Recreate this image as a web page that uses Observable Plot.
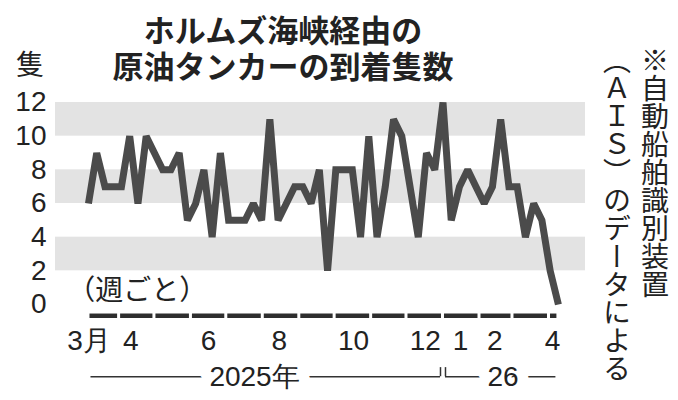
<!DOCTYPE html>
<html><head><meta charset="utf-8">
<script src="https://cdn.jsdelivr.net/npm/d3@7"></script>
<script src="https://cdn.jsdelivr.net/npm/@observablehq/plot@0.6"></script>
<style>
html,body{margin:0;padding:0;background:#fff;}
#wrap{position:relative;width:678px;height:400px;overflow:hidden;font-family:"Noto Sans CJK JP",sans-serif;color:#222;}
#title{height:88px;box-sizing:border-box;padding-top:11px;width:566px;text-align:center;font-weight:700;font-size:31px;}
#title div{height:36px;line-height:36px;}
#unit{position:absolute;left:16px;top:49px;font-size:28px;line-height:1;}
#note{position:absolute;right:4px;top:46px;writing-mode:vertical-rl;font-size:28px;line-height:38px;white-space:nowrap;}
</style>
</head><body>
<div id="wrap">
  <div id="title"><div>ホルムズ海峡経由の</div><div>原油タンカーの到着隻数</div></div>
  <div id="chart"></div>
  <div id="unit">隻</div>
  <div id="note">※自動船舶識別装置<br>（ＡＩＳ）のデータによる</div>
</div>
<script>
// ---- data ----
const weekStart = "2025-03-06";
const arrivals = [6,9,7,7,7,10,6,10,9,8,8,9,5,6,8,4,9,5,5,5,6,5,11,5,6,7,7,6,8,2,8,8,8,4,10,4,7,11,10,7,4,9,8,12,5,7,8,7,6,7,11,7,7,4,6,5,2,0];
const yTicks = [0,2,4,6,8,10,12];
const bandRanges = [[2,4],[6,8],[10,12]];
const firstMonthLabel = "3月";
const firstMonthLabelDate = "2025-03-25";
const monthLabels = ["4","6","8","10","12","1","2","4"];
const monthLabelDates = ["2025-04-11","2025-06-16","2025-08-15","2025-10-17","2025-12-17","2026-01-16","2026-02-14","2026-04-04"];
const yearLabels = ["2025年","26"];
const yearLabelDates = ["2025-07-25","2026-02-21"];
const yearBreak = "2026-01-01";
const periodNote = "（週ごと）";

// ---- build ----
const start = new Date(weekStart);
const series = arrivals.map((v, i) => ({date: d3.utcDay.offset(start, 7 * i), v}));
const end = series[series.length - 1].date;
const xDomain = [new Date("2025-02-06"), new Date("2026-05-02")];
const bounds = [start, ...d3.utcMonths(d3.utcDay.offset(start, 1), end), end];
const monthSegs = d3.pairs(bounds).map(([a, b]) => ({a, b}));
const labels = monthLabels.map((t, i) => ({t, d: new Date(monthLabelDates[i])}));
const years = yearLabels.map((t, i) => ({t, d: new Date(yearLabelDates[i])}));
const brk = new Date(yearBreak);
const yearLines = [{a: start, b: brk}, {a: brk, b: end}];

const Y_BAR = -0.67, Y_LAB = -2.15, Y_YEAR = -4.29, Y_TICKTOP = -3.75;

const chart = Plot.plot({
  width: 678, height: 312,
  marginTop: 14, marginBottom: 96, marginLeft: 55, marginRight: 93,
  style: {fontFamily: '"Liberation Sans", Arial, sans-serif', fontSize: "28px", color: "#222", background: "transparent", overflow: "visible"},
  x: {type: "utc", domain: xDomain, axis: null},
  y: {domain: [0, 12], ticks: yTicks, tickSize: 0, tickPadding: 9, label: null, tickFormat: d => String(d)},
  marks: [
    Plot.rect(bandRanges, {x1: () => xDomain[0], x2: () => xDomain[1], y1: d => d[0], y2: d => d[1], fill: "#e3e3e3"}),
    Plot.ruleY(monthSegs, {x1: "a", x2: "b", y: () => Y_BAR, stroke: "#2e2e2e", strokeWidth: 4.5, insetLeft: 1.5, insetRight: 1.5}),
    Plot.ruleY(yearLines, {x1: d => d.a, x2: d => d.b, y: () => Y_YEAR, stroke: "#333", strokeWidth: 1.5, insetLeft: 2.5, insetRight: 2.5}),
    Plot.ruleX([brk], {x: d => d, y1: () => Y_YEAR, y2: () => Y_TICKTOP, dx: -2.5, stroke: "#333", strokeWidth: 1.5}),
    Plot.ruleX([brk], {x: d => d, y1: () => Y_YEAR, y2: () => Y_TICKTOP, dx: 2.5, stroke: "#333", strokeWidth: 1.5}),
    Plot.text(years, {x: "d", y: () => Y_YEAR, text: "t", fontSize: 28, fill: "#222", stroke: "white", strokeWidth: 22, paintOrder: "stroke"}),
    Plot.text([firstMonthLabel], {x: () => new Date(firstMonthLabelDate), y: () => Y_LAB, text: d => d, fontSize: 28, fill: "#222", textAnchor: "end"}),
    Plot.text(labels, {x: "d", y: () => Y_LAB, text: "t", fontSize: 28, fill: "#222"}),
    Plot.text([periodNote], {x: () => new Date("2025-02-16"), y: () => 0.8, text: d => d, textAnchor: "start", fontSize: 28, fontFamily: '"Noto Sans CJK JP", sans-serif', fill: "#222"}),
    Plot.line(series, {x: "date", y: "v", stroke: "#4b4b4b", strokeWidth: 7, strokeLinejoin: "miter", strokeMiterlimit: 2, strokeLinecap: "butt"})
  ]
});
document.getElementById("chart").appendChild(chart);
</script>
</body></html>
